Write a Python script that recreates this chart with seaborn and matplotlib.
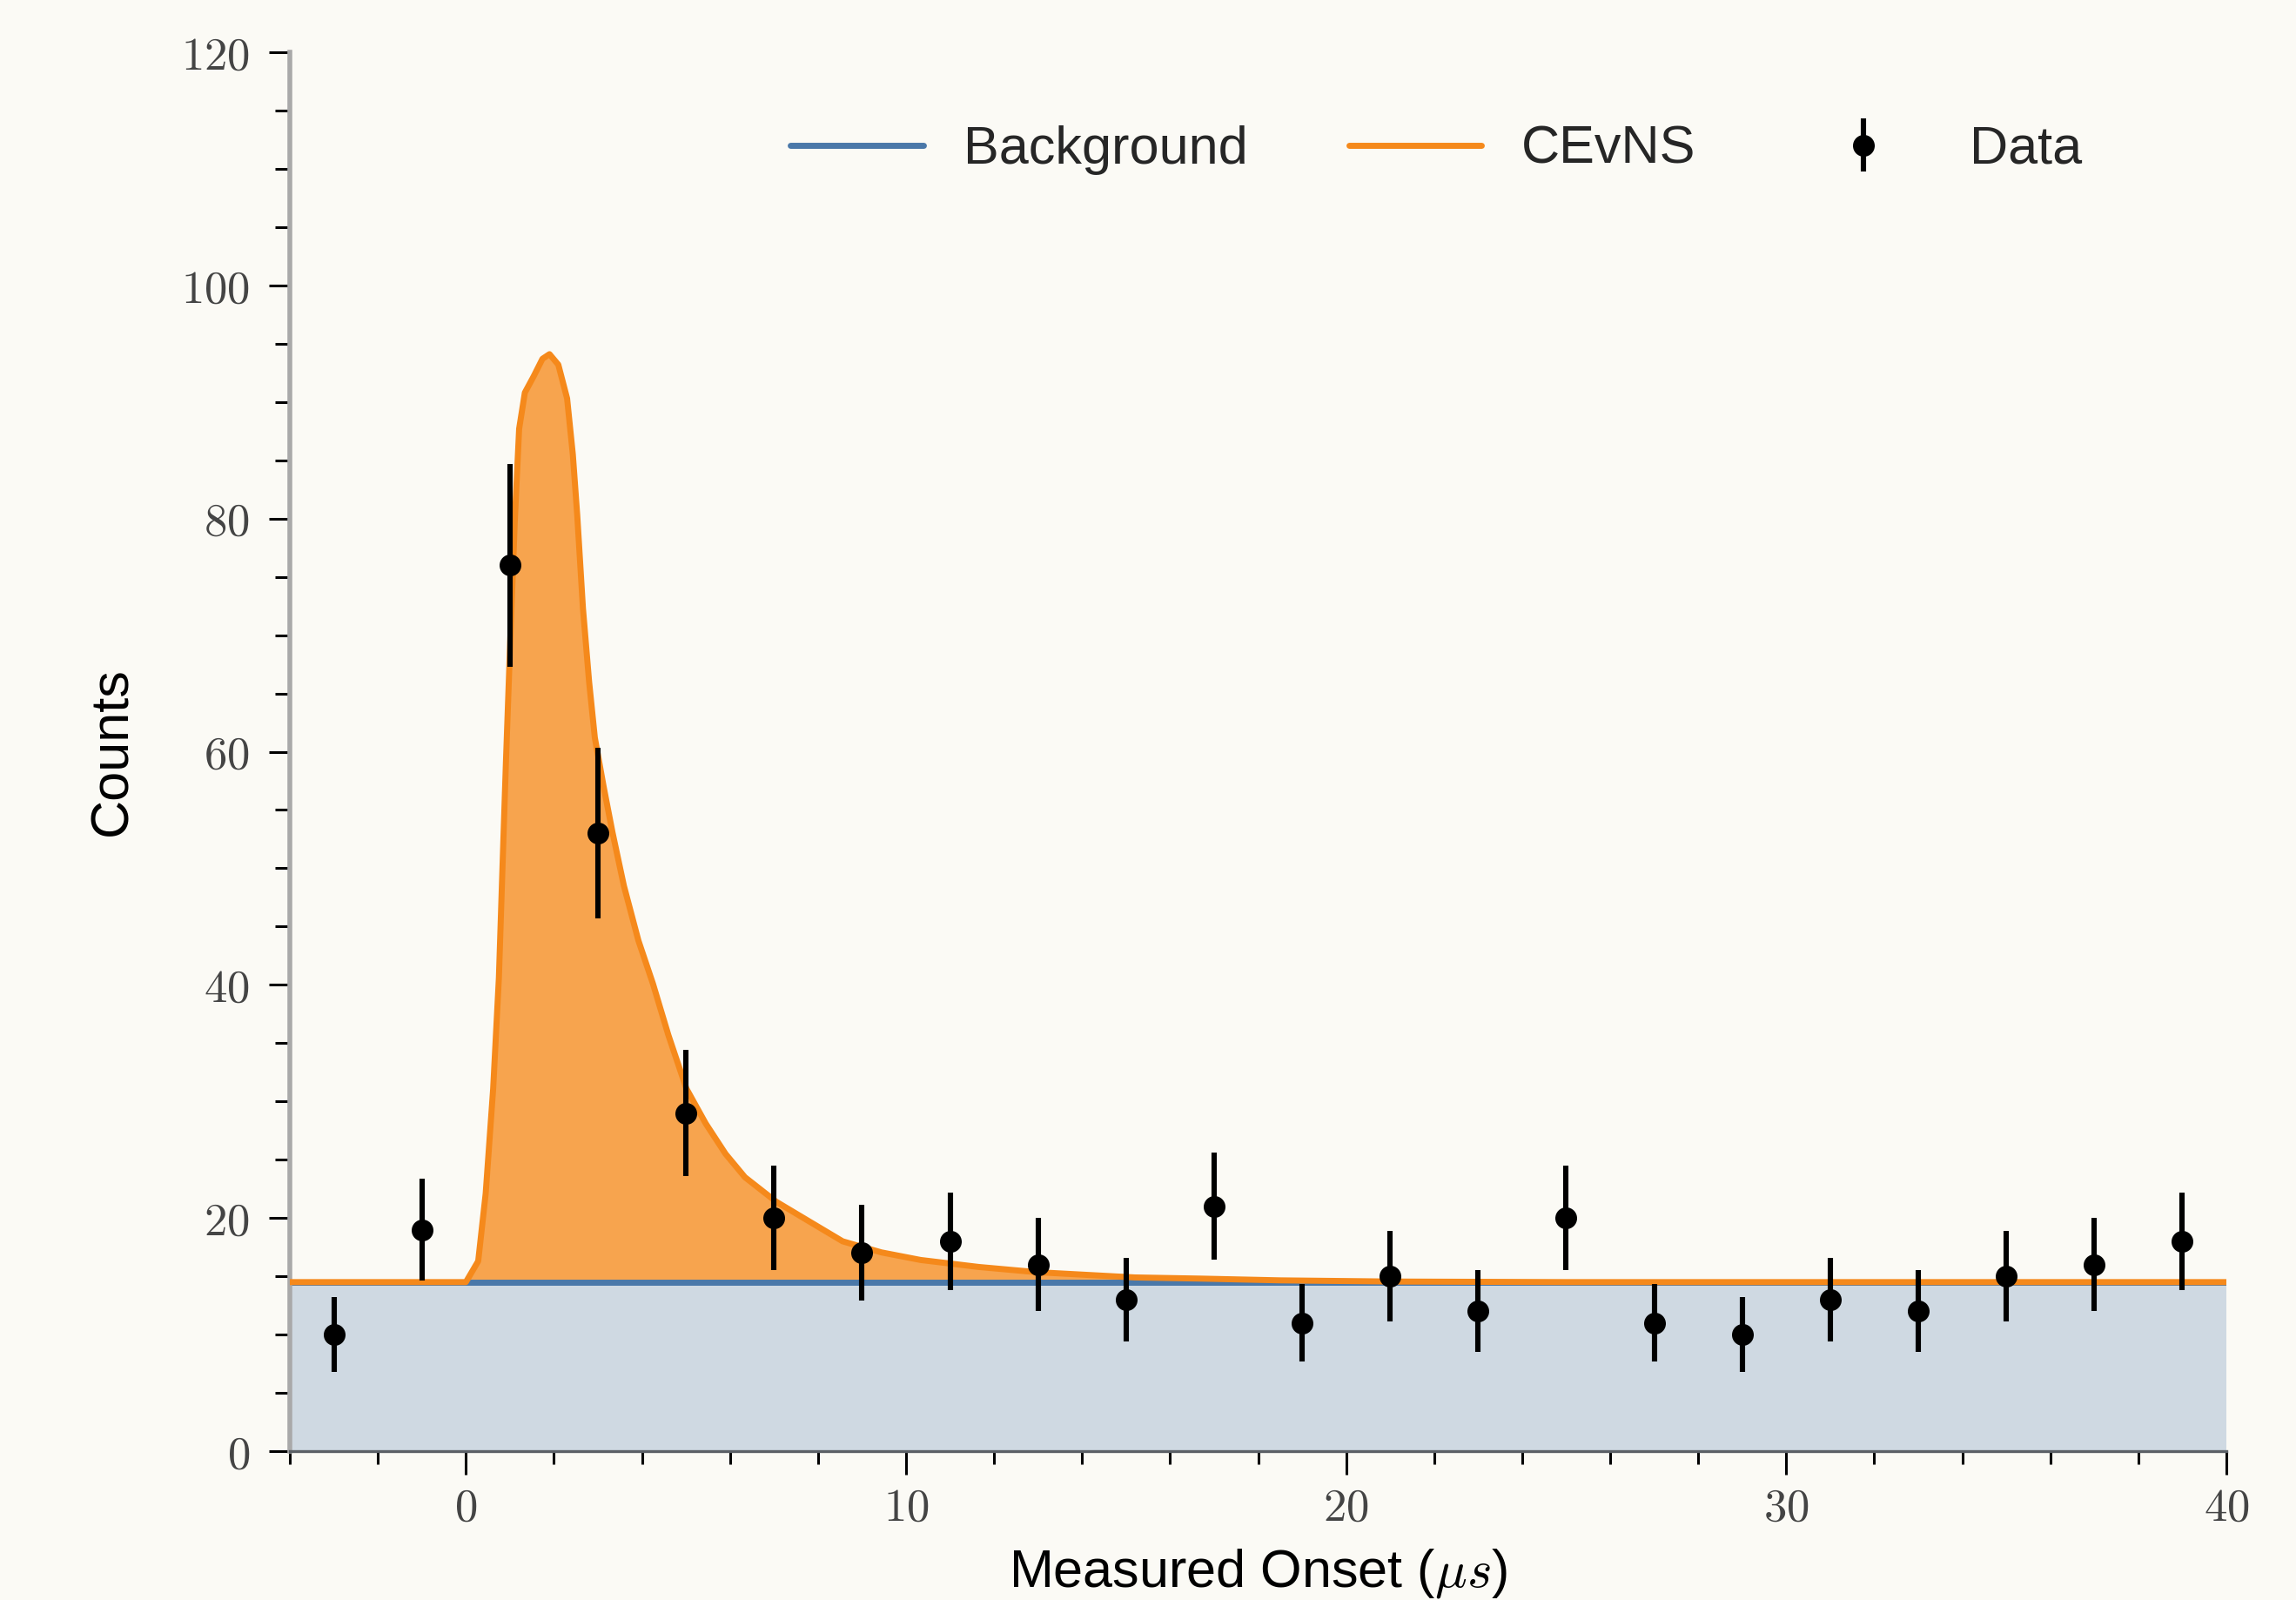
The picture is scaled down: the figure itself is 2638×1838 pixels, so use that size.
import numpy as np
import pandas as pd
import matplotlib
matplotlib.use("Agg")
import matplotlib.pyplot as plt
import seaborn as sns
from matplotlib.ticker import MultipleLocator, FuncFormatter
from matplotlib.lines import Line2D

# ---- data ----
bin_centers = [-3, -1, 1, 3, 5, 7, 9, 11, 13, 15, 17, 19, 21, 23, 25, 27, 29, 31, 33, 35, 37, 39]
counts = [10, 19, 76, 53, 29, 20, 17, 18, 16, 13, 21, 11, 15, 12, 20, 11, 10, 13, 12, 15, 16, 18]
count_err = [3.2, 4.4, 8.7, 7.3, 5.4, 4.5, 4.1, 4.2, 4.0, 3.6, 4.6, 3.3, 3.9, 3.5, 4.5, 3.3,
             3.2, 3.6, 3.5, 3.9, 4.0, 4.2]

bkg_x = [-4, 40]
bkg_y = [14.5, 14.5]

cevns_x = [-4, 0.0, 0.28, 0.45, 0.62, 0.75, 0.85, 0.91, 1.01, 1.11, 1.21, 1.34, 1.54, 1.74,
           1.90, 2.10, 2.30, 2.43, 2.53, 2.66, 2.80, 2.93, 3.13, 3.33, 3.59, 3.92, 4.25, 4.60,
           5.01, 5.45, 5.90, 6.34, 7.05, 7.76, 8.56, 9.44, 10.33, 11.65, 12.98, 15.2, 16.7,
           18.5, 21, 25, 40]
cevns_total = [14.5, 14.5, 16.3, 22.1, 31.1, 40.6, 52.2, 59.1, 69.7, 79.7, 87.7, 90.8, 92.2,
               93.7, 94.1, 93.2, 90.3, 85.5, 80.3, 72.3, 66.0, 61.2, 57.0, 53.1, 48.5, 43.8,
               40.1, 35.7, 31.1, 28.1, 25.5, 23.5, 21.4, 19.8, 18.0, 17.05, 16.4, 15.8, 15.35,
               14.9, 14.8, 14.65, 14.55, 14.5, 14.5]

legend_labels = ["Background", "CEvNS", "Data"]

# ---- style ----
BG = "#fbfaf5"
BLUE = "#4a78a9"
BLUE_FILL = "#cfd9e2"
ORANGE = "#f5891b"
ORANGE_FILL = "#f7a44e"

sns.set_theme(style="ticks")
plt.rcParams["font.family"] = ["Liberation Sans", "DejaVu Sans"]
plt.rcParams["mathtext.fontset"] = "cm"
plt.rcParams["figure.facecolor"] = BG
plt.rcParams["axes.facecolor"] = BG
plt.rcParams["savefig.facecolor"] = BG

fig, ax = plt.subplots(figsize=(13.19, 9.19), dpi=200)
fig.subplots_adjust(left=333 / 2638, right=2558 / 2638, bottom=171 / 1838, top=1778 / 1838)

bkg_df = pd.DataFrame({"x": bkg_x, "y": bkg_y})
cev_df = pd.DataFrame({"x": cevns_x, "y": cevns_total})
bkg_on_cev = np.interp(cevns_x, bkg_x, bkg_y)

ax.fill_between(bkg_x, 0, bkg_y, color=BLUE_FILL, lw=0, zorder=1)
ax.fill_between(cevns_x, bkg_on_cev, cevns_total, color=ORANGE_FILL, lw=0, zorder=1.5)
sns.lineplot(data=bkg_df, x="x", y="y", ax=ax, color=BLUE, lw=2.5, zorder=2, legend=False)
sns.lineplot(data=cev_df, x="x", y="y", ax=ax, color=ORANGE, lw=2.5, zorder=3, legend=False)
ax.errorbar(bin_centers, counts, yerr=count_err, fmt="o", color="black", ms=8,
            elinewidth=2.2, capsize=0, zorder=4)

ax.set_xlim(-4, 40)
ax.set_ylim(0, 120)
ax.xaxis.set_major_locator(MultipleLocator(10))
ax.xaxis.set_minor_locator(MultipleLocator(2))
ax.yaxis.set_major_locator(MultipleLocator(20))
ax.yaxis.set_minor_locator(MultipleLocator(5))
fmt = FuncFormatter(lambda v, p: f"${v:.0f}$")
ax.xaxis.set_major_formatter(fmt)
ax.yaxis.set_major_formatter(fmt)

ax.tick_params(axis="y", which="major", length=8.6, width=1.1, color="black",
               labelsize=19, labelcolor="#444444", pad=8, direction="out")
ax.tick_params(axis="y", which="minor", length=6, width=1.1, color="black", direction="out")
ax.tick_params(axis="x", which="major", length=9.7, width=1.1, color="black",
               labelsize=19, labelcolor="#444444", pad=5, direction="out")
ax.tick_params(axis="x", which="minor", length=5.4, width=1.1, color="black", direction="out")

for s in ["top", "right"]:
    ax.spines[s].set_visible(False)
ax.spines["left"].set_color("#a9a9a9")
ax.spines["left"].set_linewidth(2.0)
ax.spines["bottom"].set_color("#5b6066")
ax.spines["bottom"].set_linewidth(1.2)

ax.set_xlabel(r"Measured Onset ($\mu s$)", fontsize=22, labelpad=7, color="black")
ax.set_ylabel("Counts", fontsize=22, labelpad=18, color="black")

handles = [
    Line2D([], [], color=BLUE, lw=2.5),
    Line2D([], [], color=ORANGE, lw=2.5),
    ax.errorbar([], [], yerr=[], fmt="o", color="black", ms=8, elinewidth=2.2, capsize=0),
]
ax.legend(handles, legend_labels, loc="center", bbox_to_anchor=(0.592, 0.93), ncol=3,
          frameon=False, handlelength=2.5, handletextpad=0.75, columnspacing=1.9,
          fontsize=22)

fig.savefig("out.png", dpi=200, facecolor=BG)
